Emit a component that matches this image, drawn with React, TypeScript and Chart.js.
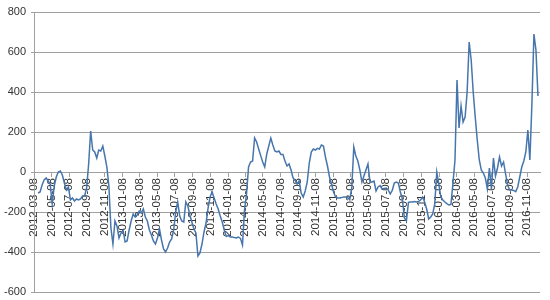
import React, { useEffect, useRef } from "react";
import { Chart, registerables } from "chart.js";

Chart.register(...registerables);

// Weekly observations starting at week index FIRST_WEEK after 2012-03-08
const START = { year: 2012, month: 2, day: 8 };
const FIRST_WEEK = 2;
const LAST_DAY = 1750;

const values: number[] = [
  -105, -100, -65, -40, -30, -45, -60, -160, -70, -25,
  0, 5, -15, -55, -90, -75, -140, -130, -145, -135,
  -140, -135, -120, -120, -80, 40, 205, 110, 100, 70,
  110, 105, 130, 80, 25, -70, -280, -360, -245, -270,
  -330, -305, -290, -350, -345, -290, -245, -210, -225, -215,
  -195, -205, -185, -225, -245, -290, -315, -345, -360, -330,
  -285, -340, -385, -400, -380, -350, -335, -290, -200, -150,
  -220, -245, -250, -150, -170, -215, -250, -285, -305, -420,
  -405, -360, -300, -255, -180, -125, -100, -130, -160, -185,
  -220, -250, -290, -322, -318, -325, -325, -328, -330, -325,
  -332, -365, -190, -110, 25, 50, 55, 170, 150, 115,
  82, 50, 25, 90, 130, 170, 135, 105, 100, 105,
  88, 88, 55, 30, 40, 10, -30, -42, -60, -45,
  -105, -125, -95, -50, 45, 100, 115, 110, 118, 115,
  135, 130, 75, 30, -25, -60, -100, -125, -130, -130,
  -128, -125, -125, -128, -138, -80, 125, 80, 55, 10,
  -50, -20, 10, 40, -50, -50, -45, -95, -75, -68,
  -85, -82, -80, -90, -110, -92, -55, -50, -55, -100,
  -135, -230, -245, -152, -150, -150, -148, -150, -148, -140,
  -125, -150, -185, -235, -225, -210, -160, 0, -60, -125,
  -140, -150, -158, -165, -162, -55, 60, 460, 220, 330,
  250, 275, 400, 650, 560, 400, 275, 160, 60, 10,
  -5, -30, -85, 20, -85, 70, -20, 20, 75, 30,
  50, -10, -65, -90, -90, -92, -98, -75, -25, 25,
  55, 100, 210, 60, 340, 690, 610, 380,
];

const Y_MIN = -600;
const Y_MAX = 800;
const Y_STEP = 200;
const TICK_COUNT = 29; // 2012-03-08 .. 2016-11-08, every two months

const DAY_MS = 86400000;
const startMs = Date.UTC(START.year, START.month, START.day);

const tickDays: number[] = [];
const tickLabels: Record<number, string> = {};
for (let n = 0; n < TICK_COUNT; n++) {
  const d = new Date(Date.UTC(START.year, START.month + 2 * n, START.day));
  const off = Math.round((d.getTime() - startMs) / DAY_MS);
  tickDays.push(off);
  const mm = String(d.getUTCMonth() + 1).padStart(2, "0");
  const dd = String(d.getUTCDate()).padStart(2, "0");
  tickLabels[off] = `${d.getUTCFullYear()}-${mm}-${dd}`;
}

const points = values.map((v, k) => ({ x: (FIRST_WEEK + k) * 7, y: v }));

const GRID = "#a0a0a0";
const TEXT = "#333333";

export default function App() {
  const ref = useRef<HTMLCanvasElement | null>(null);
  useEffect(() => {
    if (!ref.current) return;
    const chart = new Chart(ref.current, {
      type: "line",
      data: {
        datasets: [
          {
            data: points,
            borderColor: "#4676AD",
            borderWidth: 1.5,
            pointRadius: 0,
            tension: 0,
            fill: false,
          },
        ],
      },
      options: {
        responsive: false,
        animation: false,
        layout: { padding: { left: 0, right: 10, top: 12, bottom: 8 } },
        plugins: { legend: { display: false }, tooltip: { enabled: false } },
        scales: {
          x: {
            type: "linear",
            min: 0,
            max: LAST_DAY,
            position: { y: 0 } as any,
            afterBuildTicks: (scale: any) => {
              scale.ticks = tickDays.map((v) => ({ value: v }));
            },
            afterFit: (scale: any) => {
              scale.paddingLeft = 0;
              scale.paddingRight = 0;
              scale.paddingTop = 0;
              scale.paddingBottom = 0;
            },
            ticks: {
              autoSkip: false,
              minRotation: 90,
              maxRotation: 90,
              padding: 2,
              color: TEXT,
              font: { family: "'Liberation Sans', Arial, sans-serif", size: 11.5 },
              callback: (v: any) => tickLabels[Number(v)] ?? "",
            },
            grid: {
              drawOnChartArea: false,
              drawTicks: true,
              tickLength: 4,
              color: GRID,
            },
            border: { display: true, color: GRID },
          },
          y: {
            min: Y_MIN,
            max: Y_MAX,
            afterFit: (scale: any) => {
              scale.width = 34;
              scale.paddingTop = 0;
              scale.paddingBottom = 0;
            },
            ticks: {
              stepSize: Y_STEP,
              padding: 5,
              color: TEXT,
              font: {
                family: "'Liberation Sans Narrow', 'Liberation Sans', Arial, sans-serif",
                size: 11,
              },
            },
            grid: { color: GRID, tickLength: 3 },
            border: { display: true, color: GRID },
          },
        },
      },
    });
    return () => chart.destroy();
  }, []);
  return (
    <div
      style={{
        position: "fixed",
        left: 0,
        top: 0,
        width: 550,
        height: 300,
        background: "#ffffff",
      }}
    >
      <canvas ref={ref} width={550} height={300} style={{ display: "block" }} />
    </div>
  );
}
